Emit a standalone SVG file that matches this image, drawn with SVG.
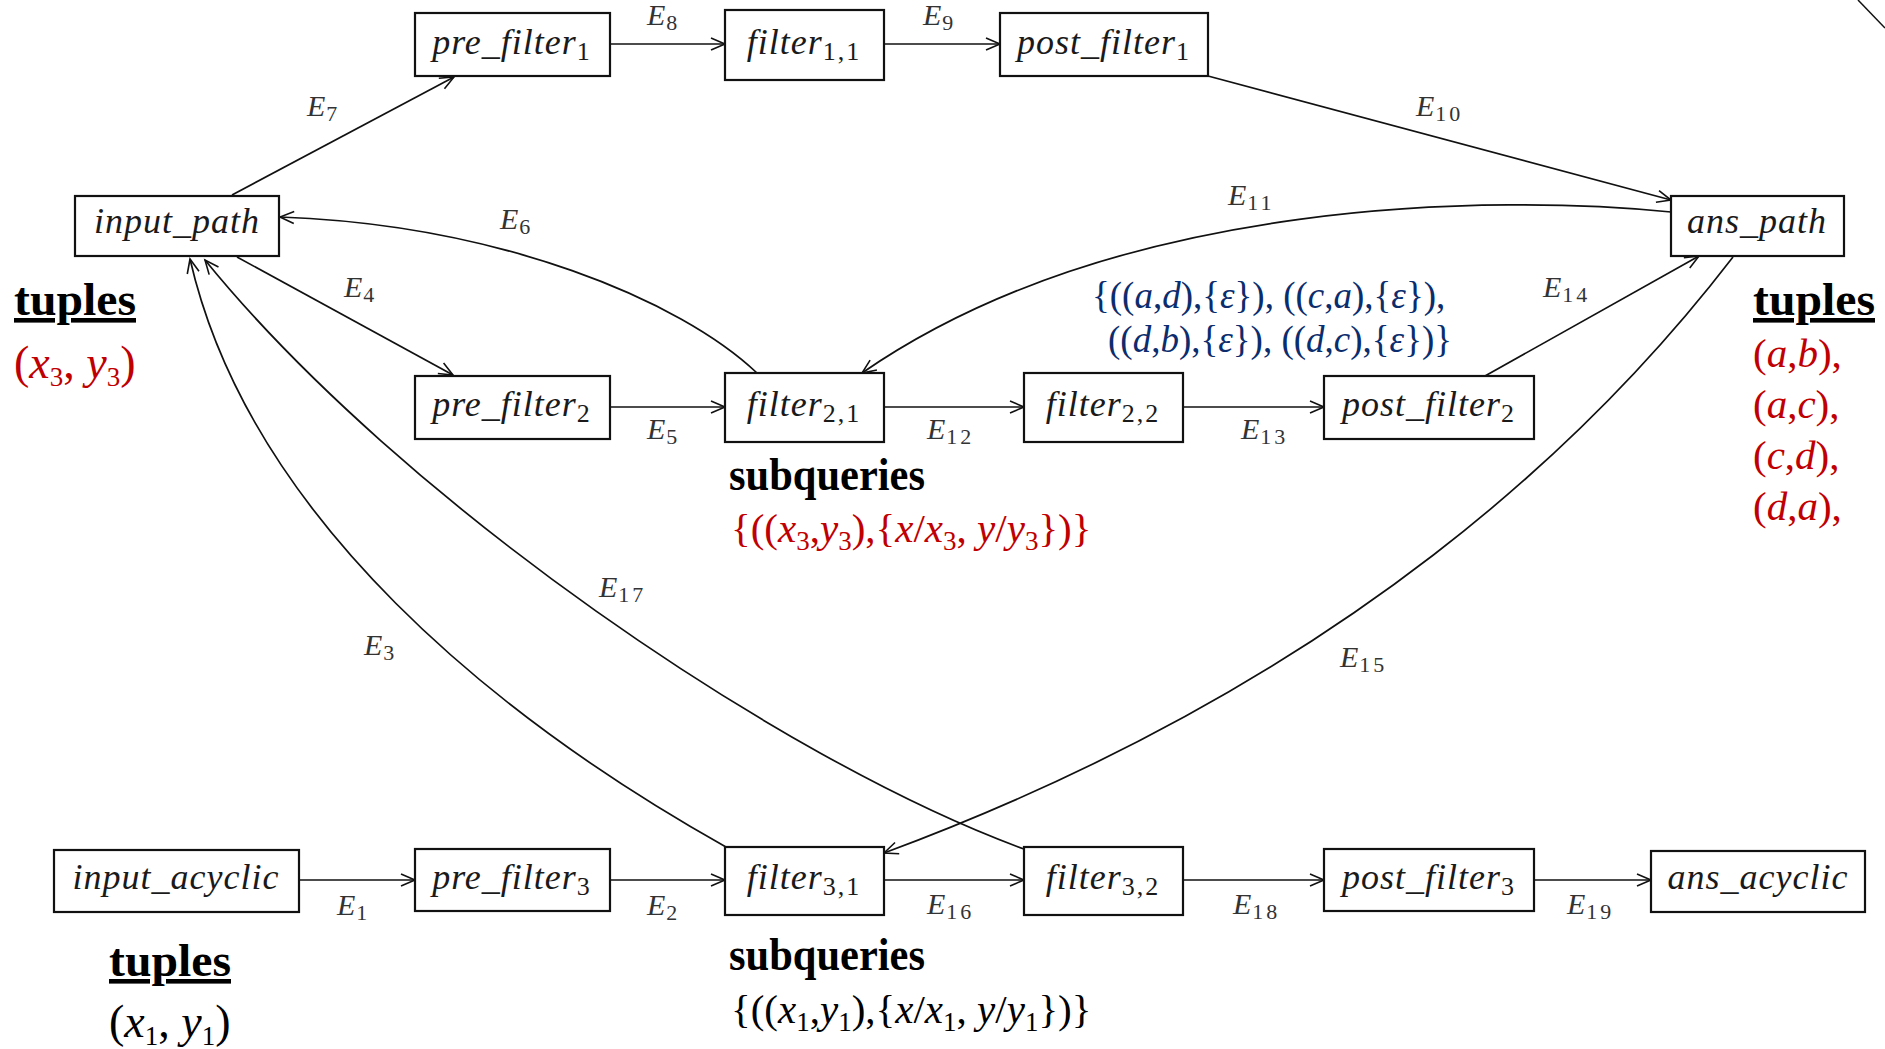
<svg xmlns="http://www.w3.org/2000/svg" width="1885" height="1049" viewBox="0 0 1885 1049">
<defs>
<marker id="arr" markerWidth="18" markerHeight="16" refX="15" refY="8" orient="auto" markerUnits="userSpaceOnUse">
<path d="M1,2 L15,8 L1,14" fill="none" stroke="#111" stroke-width="1.6"/>
</marker>
</defs>
<style>
.box{fill:#fff;stroke:#111;stroke-width:2.2}
.nl{font-family:"Liberation Serif",serif;font-style:italic;font-size:36px;letter-spacing:1px;fill:#1a1a1a;text-anchor:middle}
.sub{font-style:normal;font-size:26px;letter-spacing:2px}
.edge{fill:none;stroke:#111;stroke-width:1.7;marker-end:url(#arr)}
.el{font-family:"Liberation Serif",serif;font-style:italic;font-size:30px;fill:#333}
.es{font-style:normal;font-size:22px;letter-spacing:3px}
.hd{font-family:"Liberation Serif",serif;font-weight:bold;font-size:46px;fill:#000}
.mt{font-family:"Liberation Serif",serif;font-size:41px}
.red{fill:#c00000}
.blue{fill:#0b2d6e;font-size:37px}
.blk{fill:#000}
.big{font-size:46px}
.i{font-style:italic}
.s{font-size:27px}
</style>
<rect width="1885" height="1049" fill="#fff"/>
<line x1="1858" y1="0" x2="1885" y2="28" stroke="#111" stroke-width="1.5"/>

<g id="connectors">
  <path id="e1" class="edge" d="M299,880 L415,880"/>
  <path id="e2" class="edge" d="M610,880 L725,880"/>
  <path id="e3" class="edge" d="M726,847 C500,720 250,520 190,259"/>
  <path id="e4" class="edge" d="M237,257 L453,375"/>
  <path id="e5" class="edge" d="M610,407 L725,407"/>
  <path id="e6" class="edge" d="M757,373 C680,300 500,225 280,217"/>
  <path id="e7" class="edge" d="M232,195 L454,77"/>
  <path id="e8" class="edge" d="M610,44 L725,44"/>
  <path id="e9" class="edge" d="M884,44 L1000,44"/>
  <path id="e10" class="edge" d="M1208,76 L1671,200"/>
  <path id="e11" class="edge" d="M1671,212 C1500,195 1120,195 862,373"/>
  <path id="e12" class="edge" d="M884,407 L1024,407"/>
  <path id="e13" class="edge" d="M1183,407 L1324,407"/>
  <path id="e14" class="edge" d="M1485,376 L1699,256"/>
  <path id="e15" class="edge" d="M1733,257 C1600,430 1350,680 884,853"/>
  <path id="e16" class="edge" d="M884,880 L1024,880"/>
  <path id="e17" class="edge" d="M1024,849 C780,760 400,500 205,260"/>
  <path id="e18" class="edge" d="M1183,880 L1324,880"/>
  <path id="e19" class="edge" d="M1534,880 L1651,880"/>
</g>

<g id="edge-labels">
  <text class="el" x="337" y="915">E<tspan class="es" dx="1" dy="5">1</tspan></text>
  <text class="el" x="647" y="915">E<tspan class="es" dx="1" dy="5">2</tspan></text>
  <text class="el" x="364" y="655">E<tspan class="es" dx="1" dy="5">3</tspan></text>
  <text class="el" x="344" y="297">E<tspan class="es" dx="1" dy="5">4</tspan></text>
  <text class="el" x="647" y="439">E<tspan class="es" dx="1" dy="5">5</tspan></text>
  <text class="el" x="500" y="229">E<tspan class="es" dx="1" dy="5">6</tspan></text>
  <text class="el" x="307" y="116">E<tspan class="es" dx="1" dy="5">7</tspan></text>
  <text class="el" x="647" y="25">E<tspan class="es" dx="1" dy="5">8</tspan></text>
  <text class="el" x="923" y="25">E<tspan class="es" dx="1" dy="5">9</tspan></text>
  <text class="el" x="1416" y="116">E<tspan class="es" dx="1" dy="5">10</tspan></text>
  <text class="el" x="1228" y="205">E<tspan class="es" dx="1" dy="5">11</tspan></text>
  <text class="el" x="927" y="439">E<tspan class="es" dx="1" dy="5">12</tspan></text>
  <text class="el" x="1241" y="439">E<tspan class="es" dx="1" dy="5">13</tspan></text>
  <text class="el" x="1543" y="297">E<tspan class="es" dx="1" dy="5">14</tspan></text>
  <text class="el" x="1340" y="667">E<tspan class="es" dx="1" dy="5">15</tspan></text>
  <text class="el" x="927" y="914">E<tspan class="es" dx="1" dy="5">16</tspan></text>
  <text class="el" x="599" y="597">E<tspan class="es" dx="1" dy="5">17</tspan></text>
  <text class="el" x="1233" y="914">E<tspan class="es" dx="1" dy="5">18</tspan></text>
  <text class="el" x="1567" y="914">E<tspan class="es" dx="1" dy="5">19</tspan></text>
</g>

<g id="n-pre-filter-1"><rect class="box" x="415" y="13" width="195" height="63"/><text class="nl" x="512" y="54">pre_filter<tspan class="sub" dy="6">1</tspan></text></g>
<g id="n-filter-1-1"><rect class="box" x="725" y="10" width="159" height="70"/><text class="nl" x="804" y="54">filter<tspan class="sub" dy="6">1,1</tspan></text></g>
<g id="n-post-filter-1"><rect class="box" x="1000" y="13" width="208" height="63"/><text class="nl" x="1104" y="54">post_filter<tspan class="sub" dy="6">1</tspan></text></g>
<g id="n-input-path"><rect class="box" x="75" y="196" width="204" height="60"/><text class="nl" x="177" y="233">input_path</text></g>
<g id="n-ans-path"><rect class="box" x="1671" y="196" width="173" height="60"/><text class="nl" x="1757" y="233">ans_path</text></g>
<g id="n-pre-filter-2"><rect class="box" x="415" y="376" width="195" height="63"/><text class="nl" x="512" y="416">pre_filter<tspan class="sub" dy="6">2</tspan></text></g>
<g id="n-filter-2-1"><rect class="box" x="725" y="373" width="159" height="69"/><text class="nl" x="804" y="416">filter<tspan class="sub" dy="6">2,1</tspan></text></g>
<g id="n-filter-2-2"><rect class="box" x="1024" y="373" width="159" height="69"/><text class="nl" x="1103" y="416">filter<tspan class="sub" dy="6">2,2</tspan></text></g>
<g id="n-post-filter-2"><rect class="box" x="1324" y="376" width="210" height="63"/><text class="nl" x="1429" y="416">post_filter<tspan class="sub" dy="6">2</tspan></text></g>
<g id="n-input-acyclic"><rect class="box" x="54" y="850" width="245" height="62"/><text class="nl" x="176" y="889">input_acyclic</text></g>
<g id="n-pre-filter-3"><rect class="box" x="415" y="849" width="195" height="62"/><text class="nl" x="512" y="889">pre_filter<tspan class="sub" dy="6">3</tspan></text></g>
<g id="n-filter-3-1"><rect class="box" x="725" y="847" width="159" height="68"/><text class="nl" x="804" y="889">filter<tspan class="sub" dy="6">3,1</tspan></text></g>
<g id="n-filter-3-2"><rect class="box" x="1024" y="847" width="159" height="68"/><text class="nl" x="1103" y="889">filter<tspan class="sub" dy="6">3,2</tspan></text></g>
<g id="n-post-filter-3"><rect class="box" x="1324" y="849" width="210" height="62"/><text class="nl" x="1429" y="889">post_filter<tspan class="sub" dy="6">3</tspan></text></g>
<g id="n-ans-acyclic"><rect class="box" x="1651" y="851" width="214" height="61"/><text class="nl" x="1758" y="889">ans_acyclic</text></g>

<g id="annotations">
  <text class="hd" x="14" y="315" textLength="122" lengthAdjust="spacingAndGlyphs" text-decoration="underline">tuples</text>
  <text class="mt red big" x="14" y="378">(<tspan class="i">x</tspan><tspan class="s" dy="8">3</tspan><tspan dy="-8">, </tspan><tspan class="i">y</tspan><tspan class="s" dy="8">3</tspan><tspan dy="-8">)</tspan></text>

  <text class="hd" x="1753" y="315" textLength="122" lengthAdjust="spacingAndGlyphs" text-decoration="underline">tuples</text>
  <text class="mt red" x="1753" y="367">(<tspan class="i">a</tspan>,<tspan class="i">b</tspan>),</text>
  <text class="mt red" x="1753" y="418">(<tspan class="i">a</tspan>,<tspan class="i">c</tspan>),</text>
  <text class="mt red" x="1753" y="469">(<tspan class="i">c</tspan>,<tspan class="i">d</tspan>),</text>
  <text class="mt red" x="1753" y="520">(<tspan class="i">d</tspan>,<tspan class="i">a</tspan>),</text>

  <text class="mt blue" x="1092" y="308">{((<tspan class="i">a</tspan>,<tspan class="i">d</tspan>),{<tspan class="i">ε</tspan>}), ((<tspan class="i">c</tspan>,<tspan class="i">a</tspan>),{<tspan class="i">ε</tspan>}),</text>
  <text class="mt blue" x="1108" y="352">((<tspan class="i">d</tspan>,<tspan class="i">b</tspan>),{<tspan class="i">ε</tspan>}), ((<tspan class="i">d</tspan>,<tspan class="i">c</tspan>),{<tspan class="i">ε</tspan>})}</text>

  <text class="hd" x="729" y="490" textLength="196" lengthAdjust="spacingAndGlyphs">subqueries</text>
  <text class="mt red" x="731" y="542">{((<tspan class="i">x</tspan><tspan class="s" dy="8">3</tspan><tspan dy="-8">,</tspan><tspan class="i">y</tspan><tspan class="s" dy="8">3</tspan><tspan dy="-8">),{</tspan><tspan class="i">x</tspan>/<tspan class="i">x</tspan><tspan class="s" dy="8">3</tspan><tspan dy="-8">, </tspan><tspan class="i">y</tspan>/<tspan class="i">y</tspan><tspan class="s" dy="8">3</tspan><tspan dy="-8">})}</tspan></text>

  <text class="hd" x="109" y="976" textLength="122" lengthAdjust="spacingAndGlyphs" text-decoration="underline">tuples</text>
  <text class="mt blk big" x="109" y="1037">(<tspan class="i">x</tspan><tspan class="s" dy="8">1</tspan><tspan dy="-8">, </tspan><tspan class="i">y</tspan><tspan class="s" dy="8">1</tspan><tspan dy="-8">)</tspan></text>

  <text class="hd" x="729" y="970" textLength="196" lengthAdjust="spacingAndGlyphs">subqueries</text>
  <text class="mt blk" x="731" y="1023">{((<tspan class="i">x</tspan><tspan class="s" dy="8">1</tspan><tspan dy="-8">,</tspan><tspan class="i">y</tspan><tspan class="s" dy="8">1</tspan><tspan dy="-8">),{</tspan><tspan class="i">x</tspan>/<tspan class="i">x</tspan><tspan class="s" dy="8">1</tspan><tspan dy="-8">, </tspan><tspan class="i">y</tspan>/<tspan class="i">y</tspan><tspan class="s" dy="8">1</tspan><tspan dy="-8">})}</tspan></text>
</g>
</svg>
